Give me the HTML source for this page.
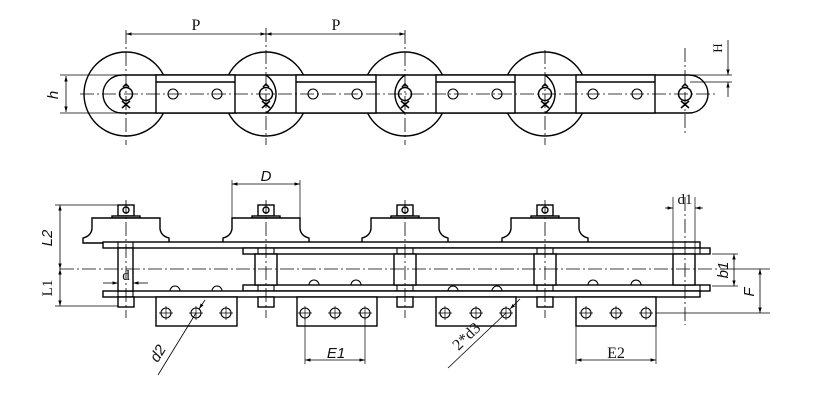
<!DOCTYPE html>
<html><head><meta charset="utf-8"><style>
html,body{margin:0;padding:0;background:#fff;width:819px;height:400px;overflow:hidden;}
svg{display:block;}
text{font-family:"Liberation Sans",sans-serif;}
</style></head><body>
<svg width="819" height="400" viewBox="0 0 819 400" xmlns="http://www.w3.org/2000/svg" style="overflow:hidden">
<defs>
<marker id="a" viewBox="0 0 10 10" refX="10" refY="5" markerWidth="7" markerHeight="7" orient="auto-start-reverse"><path d="M0,2 L10,5 L0,8 z" fill="#000"/></marker>
</defs>

<g stroke="#000" fill="none" stroke-width="1">
<!-- TOP VIEW -->
<g fill="#fff" stroke-width="1.4">
<circle cx="126" cy="94" r="42"/><circle cx="266" cy="94" r="42"/><circle cx="405" cy="94" r="42"/><circle cx="545" cy="94" r="42"/>
<path d="M122,75 H689 A19,19 0 0 1 689,113 H122 A19,19 0 0 1 122,75 Z"/>
<rect x="156" y="75" width="79" height="38"/><rect x="296" y="75" width="80" height="38"/><rect x="436" y="75" width="79" height="38"/><rect x="576" y="75" width="79" height="38"/>
</g>
<path d="M156,82H235M296,82H376M436,82H515M576,82H655" stroke-width="1.4"/>
<path d="M266,75A23,23 0 0 1 266,113M405,75A23,23 0 0 0 405,113M545,75A23,23 0 0 1 545,113" stroke-width="1.4"/>
<g stroke-width="1.1">
<circle cx="173" cy="94" r="5"/><circle cx="217" cy="94" r="5"/><circle cx="313" cy="94" r="5"/><circle cx="357" cy="94" r="5"/>
<circle cx="453" cy="94" r="5"/><circle cx="497" cy="94" r="5"/><circle cx="593" cy="94" r="5"/><circle cx="637" cy="94" r="5"/>
</g>
<g stroke-width="1.5">
<circle cx="126" cy="94" r="6.5"/><circle cx="266" cy="94" r="6.5"/><circle cx="405" cy="94" r="6.5"/><circle cx="545" cy="94" r="6.5"/><circle cx="685" cy="94" r="6.5"/>
<path d="M122,108L130,101M130,108L122,101"/>
<path d="M262,108L270,101M270,108L262,101"/>
<path d="M401,108L409,101M409,108L401,101"/>
<path d="M541,108L549,101M549,108L541,101"/>
<path d="M681,108L689,101M689,108L681,101"/>
<path d="M123,87L126,84L129,87M263,87L266,84L269,87M402,87L405,84L408,87M542,87L545,84L548,87M682,87L685,84L688,87"/>
</g>
<path d="M80,94H715" stroke-width="0.8" stroke-dasharray="14,3,2,3"/>
<path d="M126,30V145M266,28V145M405,30V145M545,50V145M685,48V135" stroke-width="0.8" stroke-dasharray="14,3,2,3"/>
<path d="M126,34H266" marker-start="url(#a)" marker-end="url(#a)" stroke-width="0.8"/>
<path d="M266,34H405" marker-start="url(#a)" marker-end="url(#a)" stroke-width="0.8"/>
<path d="M60,75H122M60,113H122" stroke-width="0.7"/>
<path d="M66,76V112" marker-start="url(#a)" marker-end="url(#a)" stroke-width="0.8"/>
<path d="M690,75H732M690,82H732" stroke-width="0.7"/>
<path d="M728,40V75" marker-end="url(#a)" stroke-width="0.8"/>
<path d="M728,97V82" marker-end="url(#a)" stroke-width="0.8"/>

<!-- BOTTOM VIEW -->
<g fill="#fff" stroke-width="1.4">
<g id="hub">
<rect x="118" y="205" width="16" height="11"/>
<rect x="112" y="216" width="28" height="2"/>
<path d="M92,218H160V229C161,235 165,237 169,238V243H83V238C87,237 91,235 92,229Z"/>
<circle cx="126" cy="210" r="3"/>
</g>
<use href="#hub" x="140"/><use href="#hub" x="279"/><use href="#hub" x="419"/>
<rect x="103" y="242" width="597" height="6"/>
<rect x="243" y="248" width="467" height="6"/>
<rect x="243" y="285" width="467" height="6"/>
<rect x="103" y="291" width="597" height="6"/>
<rect x="118" y="248" width="15" height="43"/>
<rect x="255" y="254" width="22" height="31"/>
<rect x="394" y="254" width="22" height="31"/>
<rect x="534" y="254" width="22" height="31"/>
<rect x="673" y="254" width="22" height="31"/>
<rect x="118" y="297" width="16" height="10"/><rect x="258" y="297" width="16" height="10"/><rect x="397" y="297" width="16" height="10"/><rect x="537" y="297" width="16" height="10"/>
<rect x="156" y="297" width="81" height="29"/><rect x="297" y="297" width="80" height="29"/><rect x="436" y="297" width="80" height="29"/><rect x="576" y="297" width="80" height="29"/>
</g>
<path d="M118,242V248M133,242V248M118,291V297M133,291V297M258,248V254M274,248V254M258,285V291M274,285V291M397,248V254M413,248V254M397,285V291M413,285V291M537,248V254M553,248V254M537,285V291M553,285V291M700,248V254M700,285V291" stroke-width="1.1"/>
<path d="M170,291A5,5 0 0 1 180,291M212,291A5,5 0 0 1 222,291M309,285A5,5 0 0 1 319,285M351,285A5,5 0 0 1 361,285M448,291A5,5 0 0 1 458,291M492,291A5,5 0 0 1 502,291M588,285A5,5 0 0 1 598,285M631,285A5,5 0 0 1 641,285" stroke-width="1.1"/>
<g stroke-width="1.1">
<circle cx="166" cy="313" r="5"/><circle cx="196" cy="313" r="5"/><circle cx="226" cy="313" r="5"/>
<circle cx="305" cy="313" r="5"/><circle cx="335" cy="313" r="5"/><circle cx="365" cy="313" r="5"/>
<circle cx="445" cy="313" r="5"/><circle cx="476" cy="313" r="5"/><circle cx="506" cy="313" r="5"/>
<circle cx="586" cy="313" r="5"/><circle cx="616" cy="313" r="5"/><circle cx="646" cy="313" r="5"/>
<path d="M166,306V320M159,313H173M196,306V320M189,313H203M226,306V320M219,313H233M305,306V320M298,313H312M335,306V320M328,313H342M365,306V320M358,313H372M445,306V320M438,313H452M476,306V320M469,313H483M506,306V320M499,313H513M586,306V320M579,313H593M616,306V320M609,313H623M646,306V320M639,313H653" stroke-width="0.7"/>
</g>
<path d="M60,269H725" stroke-width="0.8" stroke-dasharray="14,3,2,3"/>
<path d="M126,200V318M266,200V318M405,200V318M545,200V318M685,197V325" stroke-width="0.8" stroke-dasharray="14,3,2,3"/>
<path d="M232,180V228M300,180V228" stroke-width="0.7"/>
<path d="M232,184H300" marker-start="url(#a)" marker-end="url(#a)" stroke-width="0.8"/>
<path d="M55,205H120M55,306H118" stroke-width="0.7"/>
<path d="M60,205V269" marker-start="url(#a)" marker-end="url(#a)" stroke-width="0.8"/>
<path d="M60,269V306" marker-start="url(#a)" marker-end="url(#a)" stroke-width="0.8"/>
<path d="M103,283H118" marker-end="url(#a)" stroke-width="0.8"/>
<path d="M148,283H133" marker-end="url(#a)" stroke-width="0.8"/>
<path d="M673,197V254M695,197V254" stroke-width="0.7"/>
<path d="M665,208H673" marker-end="url(#a)" stroke-width="0.8"/>
<path d="M703,208H695" marker-end="url(#a)" stroke-width="0.8"/>
<path d="M712,254H738M712,286H738" stroke-width="0.7"/>
<path d="M734,254V286" marker-start="url(#a)" marker-end="url(#a)" stroke-width="0.8"/>
<path d="M720,269H770M656,313H770" stroke-width="0.7"/>
<path d="M760,269V313" marker-start="url(#a)" marker-end="url(#a)" stroke-width="0.8"/>
<path d="M305,318V364M365,318V364M576,326V364M656,318V364" stroke-width="0.7"/>
<path d="M305,360H365" marker-start="url(#a)" marker-end="url(#a)" stroke-width="0.8"/>
<path d="M576,360H656" marker-start="url(#a)" marker-end="url(#a)" stroke-width="0.8"/>
<path d="M158,375L196,313" stroke-width="0.8"/>
<path d="M205,300L199,309" marker-end="url(#a)" stroke-width="0.8"/>
<path d="M448,368L506,313" stroke-width="0.8"/>
<path d="M520,299L510,309" marker-end="url(#a)" stroke-width="0.8"/>
</g>

<g fill="#111">
<text x="196" y="30" font-size="16" text-anchor="middle" style="font-family:'Liberation Serif',serif">P</text>
<text x="336" y="30" font-size="16" text-anchor="middle" style="font-family:'Liberation Serif',serif">P</text>
<text transform="translate(58,95) rotate(-90)" font-size="15" font-style="italic" text-anchor="middle">h</text>
<text transform="translate(722,48) rotate(-90)" font-size="13" text-anchor="middle" style="font-family:'Liberation Serif',serif">H</text>
<text x="266" y="181" font-size="15" font-style="italic" text-anchor="middle">D</text>
<text transform="translate(52,238) rotate(-90)" font-size="15" font-style="italic" text-anchor="middle">L2</text>
<text transform="translate(52,288) rotate(-90)" font-size="15" text-anchor="middle" style="font-family:'Liberation Serif',serif">L1</text>
<text x="126" y="280" font-size="15" text-anchor="middle" style="font-family:'Liberation Serif',serif">d</text>
<text x="685" y="204" font-size="15" text-anchor="middle" style="font-family:'Liberation Serif',serif">d1</text>
<text transform="translate(728,270) rotate(-90)" font-size="15" font-style="italic" text-anchor="middle">b1</text>
<text transform="translate(754,292) rotate(-90)" font-size="15" font-style="italic" text-anchor="middle">F</text>
<text x="336" y="358" font-size="15" font-style="italic" text-anchor="middle">E1</text>
<text x="616" y="358" font-size="16" text-anchor="middle" style="font-family:'Liberation Serif',serif">E2</text>
<text transform="translate(162,356) rotate(-58)" font-size="15" font-style="italic" text-anchor="middle">d2</text>
<text transform="translate(470,340) rotate(-44)" font-size="16" text-anchor="middle" style="font-family:'Liberation Serif',serif">2*d3</text>
</g>
</svg>
</body></html>
